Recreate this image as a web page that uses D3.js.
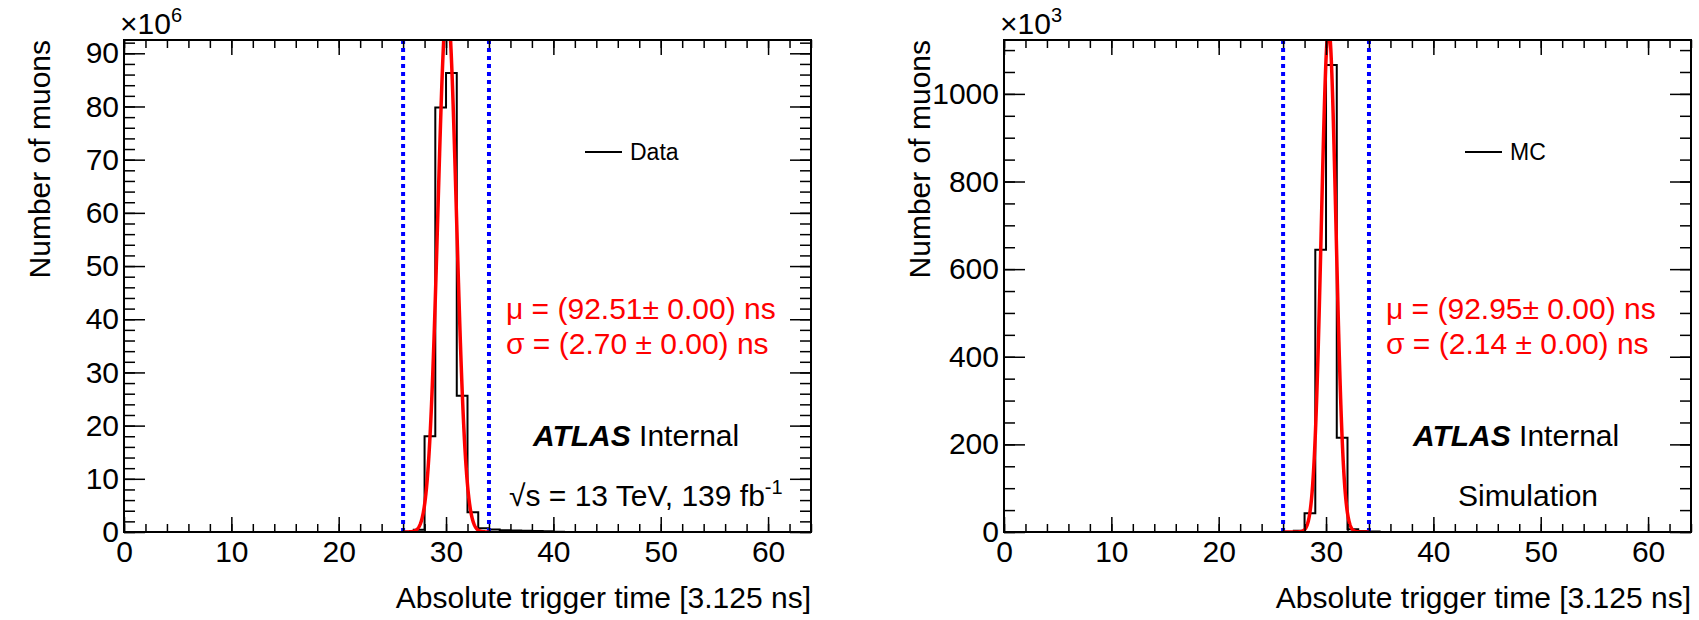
<!DOCTYPE html>
<html>
<head>
<meta charset="utf-8">
<script src="https://cdn.jsdelivr.net/npm/d3@7"></script>
<style>
  html, body { margin: 0; padding: 0; background: #fff; }
  svg { display: block; font-family: "Liberation Sans", Arial, Helvetica, sans-serif; }
</style>
</head>
<body>
<svg id="chart" width="1699" height="620"></svg>
<script>
// Trigger-time histograms, one bin per 3.125 ns bunch-crossing tick.
const nBins = 64;

// Data: counts per bin (x10^6), bins 0..63
const dataCounts = [
  0, 0, 0, 0, 0, 0, 0, 0, 0, 0,
  0, 0, 0, 0, 0, 0, 0, 0, 0, 0,
  0, 0, 0, 0, 0, 0, 0.05, 0.4, 18.0, 79.8,
  86.3, 25.6, 3.7, 0.7, 0.45, 0.35, 0.3, 0.25, 0.2, 0.12,
  0.05, 0, 0, 0, 0, 0, 0, 0, 0, 0,
  0, 0, 0, 0, 0, 0, 0, 0, 0, 0,
  0, 0, 0, 0
];

// MC: counts per bin (x10^3), bins 0..63
const mcCounts = [
  0, 0, 0, 0, 0, 0, 0, 0, 0, 0,
  0, 0, 0, 0, 0, 0, 0, 0, 0, 0,
  0, 0, 0, 0, 0, 0, 0, 3, 43, 644,
  1066, 215, 6, 2, 1, 0, 0, 0, 0, 0,
  0, 0, 0, 0, 0, 0, 0, 0, 0, 0,
  0, 0, 0, 0, 0, 0, 0, 0, 0, 0,
  0, 0, 0, 0
];

// Gaussian fit results (ns), with fit normalisation in the panel's y units
const dataFit = { mu: 92.51, sigma: 2.70, norm: 99.0 };
const mcFit   = { mu: 92.95, sigma: 2.14, norm: 1150 };

// Timing window edges (bins)
const windowCuts = [26, 34];

const xTicks = [0, 10, 20, 30, 40, 50, 60];
const dataYTicks = [0, 10, 20, 30, 40, 50, 60, 70, 80, 90];
const mcYTicks = [0, 200, 400, 600, 800, 1000];

const svg = d3.select("#chart");
const TOP = 40, BOTTOM = 532;
const NS_PER_BIN = 3.125;
const FS = 30;

function drawPanel(cfg) {
  const x = d3.scaleLinear().domain([0, nBins]).range([cfg.left, cfg.left + 687]);
  const y = d3.scaleLinear().domain([0, cfg.yMax]).range([BOTTOM, TOP]);
  const g = svg.append("g");

  const clipId = "clip-" + cfg.id;
  svg.append("clipPath").attr("id", clipId)
    .append("rect").attr("x", x(0)).attr("y", TOP)
    .attr("width", x(nBins) - x(0)).attr("height", BOTTOM - TOP);

  // Histogram outline
  const pts = [];
  cfg.counts.forEach((v, i) => { pts.push([i, v]); pts.push([i + 1, v]); });
  g.append("path")
    .attr("d", d3.line().x(d => x(d[0])).y(d => y(d[1]))(pts))
    .attr("fill", "none").attr("stroke", "#000").attr("stroke-width", 2);

  // Window edges
  windowCuts.forEach(c => {
    g.append("line")
      .attr("x1", x(c)).attr("x2", x(c)).attr("y1", BOTTOM).attr("y2", TOP)
      .attr("stroke", "#0000ff").attr("stroke-width", 4)
      .attr("stroke-dasharray", "4,4");
  });

  // Gaussian fit over the window; ns are measured from bin centres
  const m = cfg.fit.mu / NS_PER_BIN + 0.5;
  const s = cfg.fit.sigma / NS_PER_BIN;
  const curve = d3.range(0, 401).map(k => {
    const xv = windowCuts[0] + (windowCuts[1] - windowCuts[0]) * k / 400;
    return [xv, cfg.fit.norm * Math.exp(-0.5 * ((xv - m) / s) ** 2)];
  });
  g.append("path")
    .attr("clip-path", `url(#${clipId})`)
    .attr("d", d3.line().x(d => x(d[0])).y(d => y(d[1]))(curve))
    .attr("fill", "none").attr("stroke", "#ff0000").attr("stroke-width", 3.5);

  // Axes: major + minor ticks, inward, on all four sides
  const minorX = d3.range(0, nBins + 0.01, 2);
  const minorY = d3.range(0, cfg.yMax, cfg.minorStep);
  const axisStyle = sel => {
    sel.select(".domain").remove();
    sel.selectAll("line").attr("stroke", "#000").attr("stroke-width", 1.5);
    sel.selectAll("text").attr("font-size", FS).attr("fill", "#000")
      .attr("font-family", "Liberation Sans, Arial, sans-serif");
  };

  g.append("g").attr("transform", `translate(0,${BOTTOM})`)
    .call(d3.axisBottom(x).tickValues(xTicks).tickSizeInner(-15).tickSizeOuter(0)
      .tickPadding(9).tickFormat(d3.format("d")))
    .call(axisStyle);
  g.append("g").attr("transform", `translate(0,${BOTTOM})`)
    .call(d3.axisBottom(x).tickValues(minorX).tickSizeInner(-8).tickSizeOuter(0).tickFormat(""))
    .call(axisStyle);
  g.append("g").attr("transform", `translate(0,${TOP})`)
    .call(d3.axisTop(x).tickValues(xTicks).tickSizeInner(-15).tickSizeOuter(0).tickFormat(""))
    .call(axisStyle);
  g.append("g").attr("transform", `translate(0,${TOP})`)
    .call(d3.axisTop(x).tickValues(minorX).tickSizeInner(-8).tickSizeOuter(0).tickFormat(""))
    .call(axisStyle);

  g.append("g").attr("transform", `translate(${x(0)},0)`)
    .call(d3.axisLeft(y).tickValues(cfg.yTicks).tickSizeInner(-21).tickSizeOuter(0)
      .tickPadding(5).tickFormat(d3.format("d")))
    .call(axisStyle);
  g.append("g").attr("transform", `translate(${x(0)},0)`)
    .call(d3.axisLeft(y).tickValues(minorY).tickSizeInner(-11).tickSizeOuter(0).tickFormat(""))
    .call(axisStyle);
  g.append("g").attr("transform", `translate(${x(nBins)},0)`)
    .call(d3.axisRight(y).tickValues(cfg.yTicks).tickSizeInner(-21).tickSizeOuter(0).tickFormat(""))
    .call(axisStyle);
  g.append("g").attr("transform", `translate(${x(nBins)},0)`)
    .call(d3.axisRight(y).tickValues(minorY).tickSizeInner(-11).tickSizeOuter(0).tickFormat(""))
    .call(axisStyle);

  // Frame
  g.append("rect").attr("x", x(0)).attr("y", TOP)
    .attr("width", x(nBins) - x(0)).attr("height", BOTTOM - TOP)
    .attr("fill", "none").attr("stroke", "#000").attr("stroke-width", 2);

  // Exponent label
  const ex = g.append("text").attr("x", x(0) - 4).attr("y", TOP - 6)
    .attr("font-size", FS).attr("fill", "#000");
  ex.append("tspan").text("\u00d710");
  ex.append("tspan").attr("dy", -12).attr("font-size", 20).text(cfg.exponent);

  // Axis titles
  g.append("text").attr("x", x(nBins)).attr("y", 608)
    .attr("text-anchor", "end").attr("font-size", FS).text("Absolute trigger time [3.125 ns]");
  g.append("text")
    .attr("transform", `translate(${x(0) - 74},${TOP}) rotate(-90)`)
    .attr("text-anchor", "end").attr("font-size", FS).text("Number of muons");

  // Legend
  const lx = x(0) + 461;
  g.append("line").attr("x1", lx).attr("x2", lx + 37).attr("y1", 152).attr("y2", 152)
    .attr("stroke", "#000").attr("stroke-width", 2);
  g.append("text").attr("x", lx + 45).attr("y", 160).attr("font-size", 23).text(cfg.legend);

  // Fit results
  const fx = x(0) + 382;
  g.append("text").attr("x", fx).attr("y", 319).attr("font-size", FS).attr("fill", "#ff0000")
    .text(`\u03bc = (${cfg.fit.mu.toFixed(2)}\u00b1 0.00) ns`);
  g.append("text").attr("x", fx).attr("y", 354).attr("font-size", FS).attr("fill", "#ff0000")
    .text(`\u03c3 = (${cfg.fit.sigma.toFixed(2)} \u00b1 0.00) ns`);

  // ATLAS label
  const at = g.append("text").attr("x", x(0) + 409).attr("y", 446).attr("font-size", FS);
  at.append("tspan").attr("font-weight", "bold").attr("font-style", "italic").text("ATLAS");
  at.append("tspan").text(" Internal");

  cfg.extraLabel(g, x(0));
}

drawPanel({
  id: "data", left: 124, yMax: 92.5, counts: dataCounts, fit: dataFit,
  yTicks: dataYTicks, minorStep: 2, exponent: "6", legend: "Data",
  extraLabel: (g, x0) => {
    const t = g.append("text").attr("x", x0 + 385).attr("y", 506).attr("font-size", FS);
    t.append("tspan").text("\u221as = 13 TeV, 139 fb");
    t.append("tspan").attr("dy", -12).attr("font-size", 20).text("-1");
  }
});

drawPanel({
  id: "mc", left: 1004, yMax: 1123, counts: mcCounts, fit: mcFit,
  yTicks: mcYTicks, minorStep: 50, exponent: "3", legend: "MC",
  extraLabel: (g, x0) => {
    g.append("text").attr("x", x0 + 524).attr("y", 506).attr("text-anchor", "middle")
      .attr("font-size", FS).text("Simulation");
  }
});
</script>
</body>
</html>
